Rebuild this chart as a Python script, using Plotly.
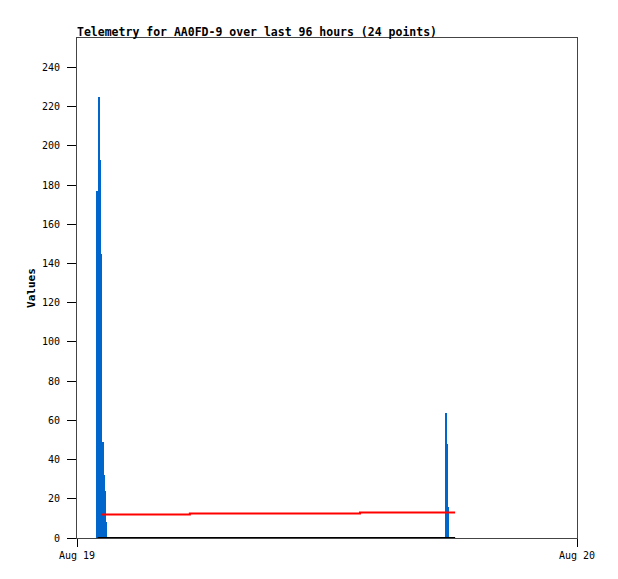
import plotly.graph_objects as go

# ---- data ----
times = [
    "2023-08-19 00:59", "2023-08-19 01:03", "2023-08-19 01:07", "2023-08-19 01:09",
    "2023-08-19 01:14", "2023-08-19 01:17", "2023-08-19 01:20", "2023-08-19 01:23",
    "2023-08-19 02:30", "2023-08-19 03:15", "2023-08-19 04:00", "2023-08-19 05:25",
    "2023-08-19 06:15", "2023-08-19 07:00", "2023-08-19 08:30", "2023-08-19 10:00",
    "2023-08-19 11:30", "2023-08-19 12:30", "2023-08-19 13:35", "2023-08-19 15:00",
    "2023-08-19 16:30", "2023-08-19 17:43", "2023-08-19 17:46", "2023-08-19 18:09",
]
blue_vals = [177, 225, 193, 145, 49, 32, 24, 8,
             0, 0, 0, 0, 0, 0, 0, 0, 0, 0, 0, 0, 0,
             64, 48, 16]
red_vals = [None, None, None, 12.0, 12.0, 12.0, 12.0, 12.0,
            12.0, 12.0, 12.0, 12.5, 12.5, 12.5, 12.5, 12.5, 12.5, 12.5,
            13.0, 13.0, 13.0, 13.0, 13.0, 13.0]
black_vals = [0] * 24

title_text = "Telemetry for AA0FD-9 over last 96 hours (24 points)"
x_tick_vals = ["2023-08-19 00:00", "2023-08-20 00:00"]
x_tick_text = ["Aug 19", "Aug 20"]
y_tick_vals = [0, 20, 40, 60, 80, 100, 120, 140, 160, 180, 200, 220, 240]

# the last blue bar sits slightly later than its time slot
blue_times = times[:23] + ["2023-08-19 17:48"]

fig = go.Figure()
fig.add_trace(go.Scatter(x=times, y=red_vals, mode="lines", line=dict(color="#ff0000", width=2, shape="hv"),
                         cliponaxis=False, showlegend=False))
fig.add_trace(go.Bar(x=blue_times, y=blue_vals, width=345600, marker=dict(color="#0066cc", line=dict(width=0)),
                     showlegend=False))
fig.add_trace(go.Scatter(x=times, y=black_vals, mode="lines", line=dict(color="#000000", width=2),
                         cliponaxis=False, showlegend=False))

font_main = "DejaVu Sans Mono, monospace"
W, H = 610, 571
fig.update_layout(
    width=W, height=H,
    margin=dict(l=69, r=41, t=30, b=41),
    paper_bgcolor="white", plot_bgcolor="white",
    barmode="overlay", bargap=0,
    font=dict(family=font_main, size=10, color="#000000"),
    title=dict(text="<b>" + title_text + "</b>", x=69/W, xanchor="left", y=1-28/H, yanchor="bottom",
               font=dict(family=font_main, size=11.5, color="#000000")),
    xaxis=dict(range=["2023-08-19 00:00", "2023-08-20 00:00"], type="date",
               tickmode="array", tickvals=x_tick_vals, ticktext=x_tick_text,
               ticks="outside", ticklen=8, tickcolor="#000000", tickwidth=1,
               showline=True, linecolor="#444444", linewidth=1, mirror=True,
               showgrid=False, zeroline=False, ticklabelstandoff=0,
               tickfont=dict(family=font_main, size=10, color="#000000")),
    yaxis=dict(range=[0, 255], tickmode="array", tickvals=y_tick_vals,
               ticks="outside", ticklen=9, tickcolor="#000000", tickwidth=1,
               showline=True, linecolor="#444444", linewidth=1, mirror=True,
               showgrid=False, zeroline=False, ticklabelstandoff=5,
               title=dict(text="<b>Values</b>", standoff=4,
                          font=dict(family=font_main, size=11, color="#000000")),
               tickfont=dict(family=font_main, size=10, color="#000000")),
)

fig.write_html("out.html")
